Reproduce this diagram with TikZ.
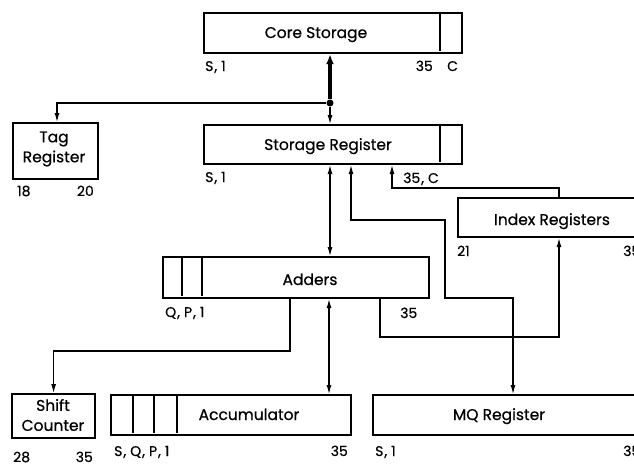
\documentclass[tikz,border=0pt]{standalone}
\usepackage{fontspec}
\setmainfont{Poppins}[FakeBold=0.6]
\usetikzlibrary{arrows.meta,calc}

\tikzset{
  reg/.style={draw, line width=2.2pt, inner sep=0pt, anchor=north west},
  cell/.style={line width=1.2pt},
  conn/.style={line width=1.1pt, >={Latex[length=9pt,width=5pt]}},
  bus/.style={line width=3.2pt, -{Latex[length=10pt,width=8pt]}},
  title/.style={font=\fontsize{15.5}{20}\selectfont, inner sep=0pt},
  bits/.style={font=\fontsize{14}{16}\selectfont, inner sep=0pt},
  dot/.style={circle, fill, inner sep=0pt, minimum size=7pt},
}
\newcommand{\cm}{\kern1pt,\kern4pt}

\begin{document}
\begin{tikzpicture}[x=1pt, y=-1pt]
  \useasboundingbox (0,0) rectangle (634,463);
  \clip (0,0) rectangle (634,463);

  % registers
  \node[reg, minimum width=258pt, minimum height=40pt] (core) at (203,12) {};
  \node[reg, minimum width=258pt, minimum height=39pt] (sreg) at (203,124) {};
  \node[reg, minimum width=85pt, minimum height=56pt] (tag) at (12,122) {};
  \node[reg, minimum width=200pt, minimum height=39pt] (idx) at (457,197) {};
  \node[reg, minimum width=266pt, minimum height=41pt] (adders) at (162,256) {};
  \node[reg, minimum width=83pt, minimum height=44pt] (shift) at (11,393) {};
  \node[reg, minimum width=240pt, minimum height=40pt] (acc) at (110,394) {};
  \node[reg, minimum width=290pt, minimum height=40pt] (mq) at (372,394) {};

  % cells
  \draw[cell] (440,13) -- (440,51);
  \draw[cell] (440,125) -- (440,162);
  \foreach \x in {182,202} \draw[cell] (\x,257) -- (\x,296);
  \foreach \x in {133,154,177} \draw[cell] (\x,395) -- (\x,433);

  % names
  \node[title, anchor=base] at (316,38) {Core Storage};
  \node[title, anchor=base] at (328,150) {Storage Register};
  \node[title, align=center] at (54,149) {Tag\\Register};
  \node[title, anchor=base] at (552,225) {Index Registers};
  \node[title, anchor=base] at (310,285) {Adders};
  \node[title, align=center] at (53,415) {Shift\\Counter};
  \node[title, anchor=base] at (249,420) {Accumulator};
  \node[title, anchor=base] at (499,420) {MQ Register};

  % bit positions
  \node[bits, anchor=base west] at (205,71) {S\cm1};
  \node[bits, anchor=base east] at (433,71) {35};
  \node[bits, anchor=base west] at (447,71) {C};
  \node[bits, anchor=base west] at (205,182) {S\cm1};
  \node[bits, anchor=base west] at (403,183) {35\cm C};
  \node[bits, anchor=base west] at (17,196) {18};
  \node[bits, anchor=base east] at (94,196) {20};
  \node[bits, anchor=base west] at (457,256) {21};
  \node[bits, anchor=base west] at (623,256) {35};
  \node[bits, anchor=base west] at (165,317) {Q\cm P\cm1};
  \node[bits, anchor=base west] at (400,318) {35};
  \node[bits, anchor=base west] at (13,462) {28};
  \node[bits, anchor=base east] at (93,462) {35};
  \node[bits, anchor=base west] at (114,456) {S\cm Q\cm P\cm1};
  \node[bits, anchor=base east] at (348,456) {35};
  \node[bits, anchor=base west] at (375,456) {S\cm1};
  \node[bits, anchor=base west] at (623,456) {35};

  % data paths
  \node[dot] (tap) at (330,103) {};
  \draw[bus] (tap) -- (tap |- core.south);
  \draw[conn, ->] (tap) -- (tap |- sreg.north);
  \draw[conn, ->] (tap) -| (57,0 |- tag.north);
  \draw[conn, <->] (tap |- sreg.south) -- (tap |- adders.north);
  \draw[conn, <->] (351,0 |- sreg.south) |- (445,220) |- (513,298) -- (513,0 |- mq.north);
  \draw[conn, ->] (559,0 |- idx.north) |- (392,188) -- (392,0 |- sreg.south);
  \draw[conn, ->] (380,0 |- adders.south) |- (559,337) -- (559,0 |- idx.south);
  \draw[conn, ->] (290,0 |- adders.south) -- (290,351) -| (shift.north);
  \draw[conn, <->] (329,0 |- adders.south) -- (329,0 |- acc.north);
\end{tikzpicture}
\end{document}
